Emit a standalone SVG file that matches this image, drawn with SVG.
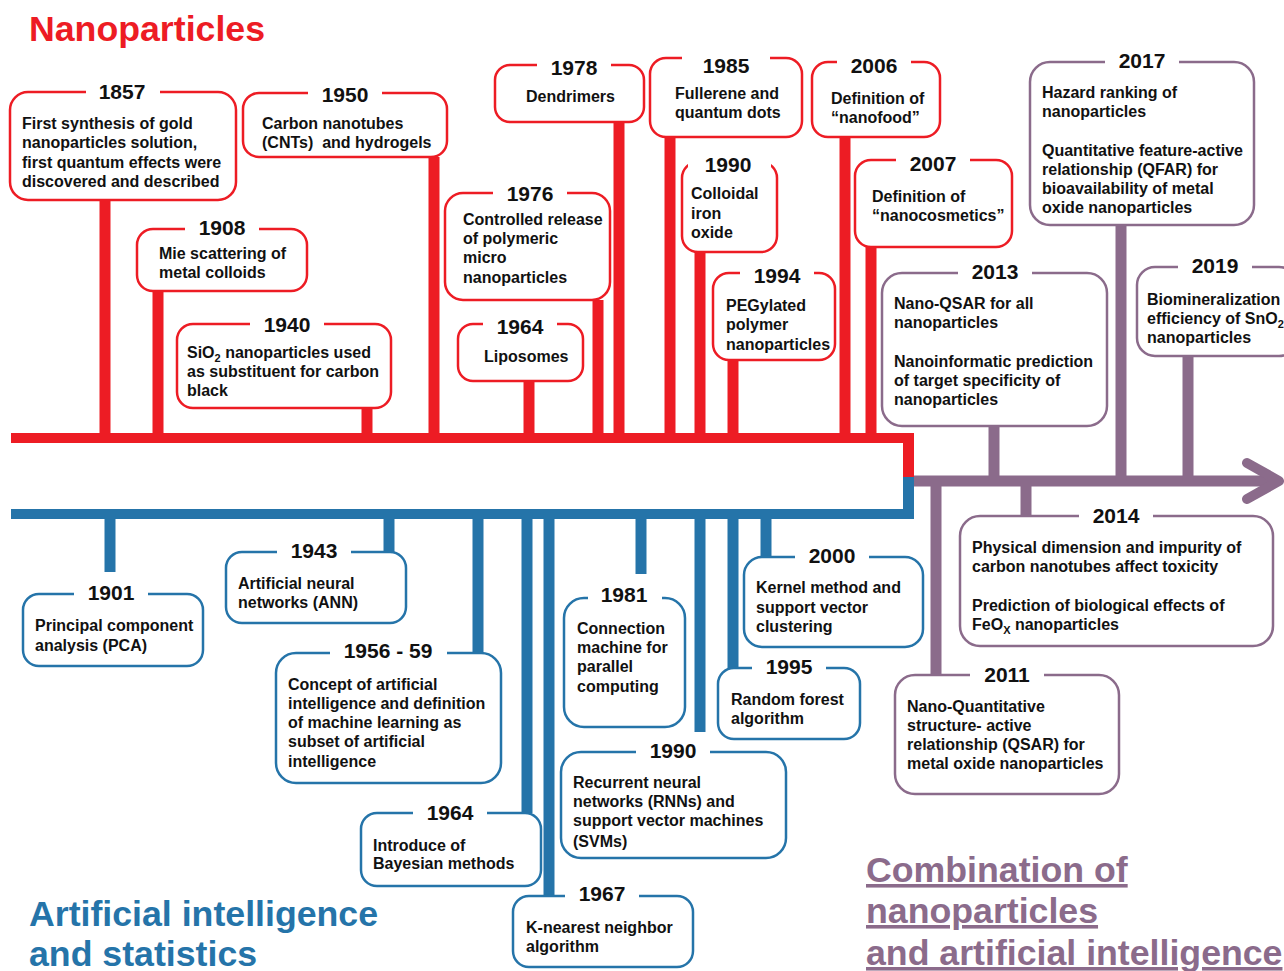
<svg xmlns="http://www.w3.org/2000/svg" width="1284" height="971" viewBox="0 0 1284 971">
<style>
.bx{fill:#fff;stroke-width:2.5}
.r{stroke:#ed1c24}
.b{stroke:#2574a9}
.p{stroke:#8b6b8b}
.gap{fill:#fff;stroke:none}
.yr{font-family:"Liberation Sans",Arial,sans-serif;font-weight:bold;font-size:21px;text-anchor:middle;fill:#111}
.t{font-family:"Liberation Sans",Arial,sans-serif;font-weight:bold;font-size:16px;fill:#111}
.sub{font-size:11px}
.title{font-family:"Liberation Sans",Arial,sans-serif;font-weight:bold;font-size:35.7px}
.sr{stroke:#ed1c24;stroke-width:11}
.sb{stroke:#2574a9;stroke-width:11}
.sp{stroke:#8b6b8b;stroke-width:11}
</style>
<rect width="1284" height="971" fill="#fff"/>

<g id="titles">
<text class="title" x="29" y="41" fill="#ed1c24">Nanoparticles</text>
<text class="title" x="29" y="926" fill="#2574a9">Artificial intelligence</text>
<text class="title" x="29" y="966" fill="#2574a9">and statistics</text>
<text class="title" x="866" y="882" fill="#8b6b8b" text-decoration="underline">Combination of</text>
<text class="title" x="866" y="923" fill="#8b6b8b" text-decoration="underline">nanoparticles</text>
<text class="title" x="866" y="965" fill="#8b6b8b" text-decoration="underline">and artificial intelligence</text>
</g>

<g id="connectors">
<rect x="11" y="433" width="903" height="10" fill="#ed1c24"/>
<rect x="903" y="433" width="11" height="45" fill="#ed1c24"/>
<rect x="903" y="477" width="11" height="42" fill="#2574a9"/>
<rect x="11" y="509" width="903" height="10" fill="#2574a9"/>
<line x1="914" y1="481" x2="1276" y2="481" class="sp" stroke-width="10"/>
<polyline points="1247,463 1279,481 1247,499" fill="none" stroke="#8b6b8b" stroke-width="10" stroke-linecap="round" stroke-linejoin="round"/>
<line class="sr" x1="105" y1="200" x2="105" y2="438"/>
<line class="sr" x1="158" y1="291" x2="158" y2="438"/>
<line class="sr" x1="367" y1="408" x2="367" y2="438"/>
<line class="sr" x1="434" y1="157" x2="434" y2="438"/>
<line class="sr" x1="529" y1="381" x2="529" y2="438"/>
<line class="sr" x1="598" y1="300" x2="598" y2="438"/>
<line class="sr" x1="619" y1="122" x2="619" y2="438"/>
<line class="sr" x1="670" y1="137" x2="670" y2="438"/>
<line class="sr" x1="700" y1="252" x2="700" y2="438"/>
<line class="sr" x1="733" y1="360" x2="733" y2="438"/>
<line class="sr" x1="845" y1="137" x2="845" y2="438"/>
<line class="sr" x1="871" y1="247" x2="871" y2="438"/>
<line class="sb" x1="110" y1="514" x2="110" y2="572"/>
<line class="sb" x1="389" y1="514" x2="389" y2="552"/>
<line class="sb" x1="478" y1="514" x2="478" y2="653"/>
<line class="sb" x1="527" y1="514" x2="527" y2="813"/>
<line class="sb" x1="549" y1="514" x2="549" y2="896"/>
<line class="sb" x1="641" y1="514" x2="641" y2="574"/>
<line class="sb" x1="700" y1="514" x2="700" y2="732"/>
<line class="sb" x1="733" y1="514" x2="733" y2="668"/>
<line class="sb" x1="766" y1="514" x2="766" y2="557"/>
<line class="sp" x1="994" y1="426" x2="994" y2="481"/>
<line class="sp" x1="1121" y1="225" x2="1121" y2="481"/>
<line class="sp" x1="1188" y1="356" x2="1188" y2="481"/>
<line class="sp" x1="936" y1="481" x2="936" y2="675"/>
<line class="sp" x1="1026" y1="481" x2="1026" y2="516"/>
</g>

<g id="n1857">
<rect class="bx r" x="10" y="92" width="226" height="108" rx="18"/>
<rect class="gap" x="86" y="87" width="74" height="10"/>
<text class="yr" x="122" y="99">1857</text>
<text class="t" x="22" y="129">First synthesis of gold</text>
<text class="t" x="22" y="148">nanoparticles solution,</text>
<text class="t" x="22" y="168">first quantum effects were</text>
<text class="t" x="22" y="187">discovered and described</text>
</g>
<g id="n1950">
<rect class="bx r" x="243" y="93" width="204" height="64" rx="16"/>
<rect class="gap" x="308" y="88" width="74" height="10"/>
<text class="yr" x="345" y="102">1950</text>
<text class="t" x="262" y="129">Carbon nanotubes</text>
<text class="t" x="262" y="148" xml:space="preserve">(CNTs)  and hydrogels</text>
</g>
<g id="n1908">
<rect class="bx r" x="137" y="229" width="170" height="62" rx="16"/>
<rect class="gap" x="185" y="224" width="74" height="10"/>
<text class="yr" x="222" y="235">1908</text>
<text class="t" x="159" y="259">Mie scattering of</text>
<text class="t" x="159" y="278">metal colloids</text>
</g>
<g id="n1940">
<rect class="bx r" x="177" y="324" width="214" height="84" rx="16"/>
<rect class="gap" x="250" y="319" width="74" height="10"/>
<text class="yr" x="287" y="332">1940</text>
<text class="t" x="187" y="358">SiO<tspan class="sub" dy="4">2</tspan><tspan dy="-4"> nanoparticles used</tspan></text>
<text class="t" x="187" y="377">as substituent for carbon</text>
<text class="t" x="187" y="396">black</text>
</g>
<g id="n1964L">
<rect class="bx r" x="458" y="324" width="125" height="57" rx="15"/>
<rect class="gap" x="483" y="319" width="74" height="10"/>
<text class="yr" x="520" y="334">1964</text>
<text class="t" x="484" y="362">Liposomes</text>
</g>
<g id="n1976">
<rect class="bx r" x="445" y="193" width="165" height="107" rx="18"/>
<rect class="gap" x="493" y="188" width="74" height="10"/>
<text class="yr" x="530" y="201">1976</text>
<text class="t" x="463" y="225">Controlled release</text>
<text class="t" x="463" y="244">of polymeric</text>
<text class="t" x="463" y="263">micro</text>
<text class="t" x="463" y="283">nanoparticles</text>
</g>
<g id="n1978">
<rect class="bx r" x="495" y="65" width="149" height="57" rx="15"/>
<rect class="gap" x="537" y="60" width="74" height="10"/>
<text class="yr" x="574" y="75">1978</text>
<text class="t" x="526" y="102">Dendrimers</text>
</g>
<g id="n1985">
<rect class="bx r" x="650" y="58" width="152" height="79" rx="16"/>
<rect class="gap" x="682" y="53" width="88" height="10"/>
<text class="yr" x="726" y="73">1985</text>
<text class="t" x="675" y="99">Fullerene and</text>
<text class="t" x="675" y="118">quantum dots</text>
</g>
<g id="n1990c">
<rect class="bx r" x="682" y="162" width="95" height="90" rx="16"/>
<rect class="gap" x="688" y="157" width="83" height="10"/>
<text class="yr" x="728" y="172">1990</text>
<text class="t" x="691" y="199">Colloidal</text>
<text class="t" x="691" y="219">iron</text>
<text class="t" x="691" y="238">oxide</text>
</g>
<g id="n1994">
<rect class="bx r" x="713" y="273" width="122" height="87" rx="16"/>
<rect class="gap" x="740" y="268" width="74" height="10"/>
<text class="yr" x="777" y="283">1994</text>
<text class="t" x="726" y="311">PEGylated</text>
<text class="t" x="726" y="330">polymer</text>
<text class="t" x="726" y="350">nanoparticles</text>
</g>
<g id="n2006">
<rect class="bx r" x="812" y="62" width="128" height="75" rx="16"/>
<rect class="gap" x="837" y="57" width="74" height="10"/>
<text class="yr" x="874" y="73">2006</text>
<text class="t" x="831" y="104">Definition of</text>
<text class="t" x="831" y="123">“nanofood”</text>
</g>
<g id="n2007">
<rect class="bx r" x="855" y="160" width="157" height="87" rx="16"/>
<rect class="gap" x="896" y="155" width="74" height="10"/>
<text class="yr" x="933" y="171">2007</text>
<text class="t" x="872" y="202">Definition of</text>
<text class="t" x="872" y="221">“nanocosmetics”</text>
</g>

<g id="n2013">
<rect class="bx p" x="882" y="273" width="225" height="153" rx="20"/>
<rect class="gap" x="958" y="268" width="74" height="10"/>
<text class="yr" x="995" y="279">2013</text>
<text class="t" x="894" y="309">Nano-QSAR for all</text>
<text class="t" x="894" y="328">nanoparticles</text>
<text class="t" x="894" y="367">Nanoinformatic prediction</text>
<text class="t" x="894" y="386">of target specificity of</text>
<text class="t" x="894" y="405">nanoparticles</text>
</g>
<g id="n2017">
<rect class="bx p" x="1030" y="62" width="224" height="163" rx="20"/>
<rect class="gap" x="1105" y="57" width="74" height="10"/>
<text class="yr" x="1142" y="68">2017</text>
<text class="t" x="1042" y="98">Hazard ranking of</text>
<text class="t" x="1042" y="117">nanoparticles</text>
<text class="t" x="1042" y="156">Quantitative feature-active</text>
<text class="t" x="1042" y="175">relationship (QFAR) for</text>
<text class="t" x="1042" y="194">bioavailability of metal</text>
<text class="t" x="1042" y="213">oxide nanoparticles</text>
</g>
<g id="n2019">
<rect class="bx p" x="1137" y="267" width="160" height="89" rx="18"/>
<rect class="gap" x="1178" y="262" width="74" height="10"/>
<text class="yr" x="1215" y="273">2019</text>
<text class="t" x="1147" y="305">Biomineralization</text>
<text class="t" x="1147" y="324">efficiency of SnO<tspan class="sub" dy="4">2</tspan></text>
<text class="t" x="1147" y="343">nanoparticles</text>
</g>
<g id="n2014">
<rect class="bx p" x="960" y="516" width="313" height="130" rx="20"/>
<rect class="gap" x="1079" y="511" width="74" height="10"/>
<text class="yr" x="1116" y="523">2014</text>
<text class="t" x="972" y="553">Physical dimension and impurity of</text>
<text class="t" x="972" y="572">carbon nanotubes affect toxicity</text>
<text class="t" x="972" y="611">Prediction of biological effects of</text>
<text class="t" x="972" y="630">FeO<tspan class="sub" dy="4">X</tspan><tspan dy="-4"> nanoparticles</tspan></text>
</g>
<g id="n2011">
<rect class="bx p" x="895" y="675" width="224" height="119" rx="20"/>
<rect class="gap" x="970" y="670" width="74" height="10"/>
<text class="yr" x="1007" y="682">2011</text>
<text class="t" x="907" y="712">Nano-Quantitative</text>
<text class="t" x="907" y="731">structure- active</text>
<text class="t" x="907" y="750">relationship (QSAR) for</text>
<text class="t" x="907" y="769">metal oxide nanoparticles</text>
</g>

<g id="n1901">
<rect class="bx b" x="23" y="594" width="180" height="72" rx="16"/>
<rect class="gap" x="74" y="589" width="74" height="10"/>
<text class="yr" x="111" y="600">1901</text>
<text class="t" x="35" y="631">Principal component</text>
<text class="t" x="35" y="651">analysis (PCA)</text>
</g>
<g id="n1943">
<rect class="bx b" x="226" y="552" width="180" height="71" rx="16"/>
<rect class="gap" x="277" y="547" width="74" height="10"/>
<text class="yr" x="314" y="558">1943</text>
<text class="t" x="238" y="589">Artificial neural</text>
<text class="t" x="238" y="608">networks (ANN)</text>
</g>
<g id="n1956">
<rect class="bx b" x="276" y="653" width="225" height="130" rx="20"/>
<rect class="gap" x="330" y="648" width="117" height="10"/>
<text class="yr" x="388" y="658">1956 - 59</text>
<text class="t" x="288" y="690">Concept of artificial</text>
<text class="t" x="288" y="709">intelligence and definition</text>
<text class="t" x="288" y="728">of machine learning as</text>
<text class="t" x="288" y="747">subset of artificial</text>
<text class="t" x="288" y="767">intelligence</text>
</g>
<g id="n1964B">
<rect class="bx b" x="361" y="813" width="180" height="73" rx="16"/>
<rect class="gap" x="413" y="808" width="74" height="10"/>
<text class="yr" x="450" y="820">1964</text>
<text class="t" x="373" y="851">Introduce of</text>
<text class="t" x="373" y="869">Bayesian methods</text>
</g>
<g id="n1967">
<rect class="bx b" x="513" y="896" width="180" height="71" rx="16"/>
<rect class="gap" x="565" y="891" width="74" height="10"/>
<text class="yr" x="602" y="901">1967</text>
<text class="t" x="526" y="933">K-nearest neighbor</text>
<text class="t" x="526" y="952">algorithm</text>
</g>
<g id="n1981">
<rect class="bx b" x="564" y="598" width="121" height="129" rx="20"/>
<rect class="gap" x="588" y="593" width="74" height="10"/>
<text class="yr" x="624" y="602">1981</text>
<text class="t" x="577" y="634">Connection</text>
<text class="t" x="577" y="653">machine for</text>
<text class="t" x="577" y="672">parallel</text>
<text class="t" x="577" y="692">computing</text>
</g>
<g id="n1990R">
<rect class="bx b" x="561" y="752" width="225" height="106" rx="20"/>
<rect class="gap" x="636" y="747" width="74" height="10"/>
<text class="yr" x="673" y="758">1990</text>
<text class="t" x="573" y="788">Recurrent neural</text>
<text class="t" x="573" y="807">networks (RNNs) and</text>
<text class="t" x="573" y="826">support vector machines</text>
<text class="t" x="573" y="847">(SVMs)</text>
</g>
<g id="n1995">
<rect class="bx b" x="718" y="668" width="142" height="71" rx="16"/>
<rect class="gap" x="752" y="663" width="74" height="10"/>
<text class="yr" x="789" y="674">1995</text>
<text class="t" x="731" y="705">Random forest</text>
<text class="t" x="731" y="724">algorithm</text>
</g>
<g id="n2000">
<rect class="bx b" x="744" y="557" width="179" height="90" rx="18"/>
<rect class="gap" x="795" y="552" width="74" height="10"/>
<text class="yr" x="832" y="563">2000</text>
<text class="t" x="756" y="593">Kernel method and</text>
<text class="t" x="756" y="613">support vector</text>
<text class="t" x="756" y="632">clustering</text>
</g>
</svg>
